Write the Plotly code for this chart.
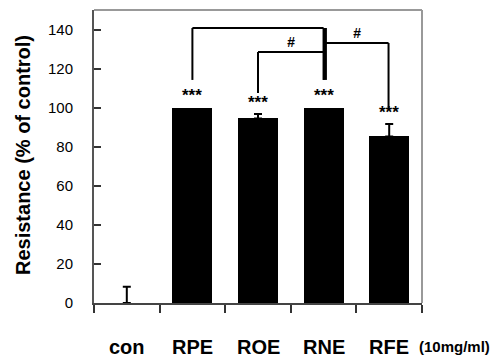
import plotly.graph_objects as go

categories = ["con", "RPE", "ROE", "RNE", "RFE"]
means = [0, 100, 94.5, 100, 85.3]
errors = [8.3, 0, 2.2, 0, 6.3]
stars = ["", "***", "***", "***", "***"]
y_ticks = [0, 20, 40, 60, 80, 100, 120, 140]
unit_label = "(10mg/ml)"

# significance brackets: (left index, right index, top y, left bottom y, right bottom y, label)
brackets = [
    (1, 3, 140.8, 114.2, 114.2, ""),
    (2, 3.02, 128.5, 107.5, None, "#"),
    (3.02, 3.99, 133.1, None, 99.8, "#"),
]

FONT = "Liberation Sans, Arial, sans-serif"
xs = list(range(len(categories)))

fig = go.Figure()
fig.add_trace(go.Bar(
    x=xs, y=means, width=0.61,
    marker=dict(color="black", line=dict(width=0)),
))
err_idx = [i for i, e in enumerate(errors) if e > 0]
fig.add_trace(go.Scatter(
    x=[xs[i] for i in err_idx], y=[means[i] for i in err_idx], mode="markers",
    marker=dict(size=0.1, color="black"),
    error_y=dict(type="data", symmetric=False, array=[errors[i] for i in err_idx],
                 arrayminus=[0] * len(err_idx), color="black",
                 thickness=2, width=4),
))

shapes = []
# top/right gray frame
shapes.append(dict(type="line", xref="paper", yref="paper", x0=0, x1=1, y0=1, y1=1,
                   line=dict(color="#999999", width=2)))
shapes.append(dict(type="line", xref="paper", yref="paper", x0=1, x1=1, y0=0, y1=1,
                   line=dict(color="#999999", width=2)))

for (xl, xr, top, bl, br, lab) in brackets:
    shapes.append(dict(type="line", xref="x", yref="y", x0=xl, x1=xr, y0=top, y1=top,
                       line=dict(color="black", width=2)))
    if bl is not None:
        shapes.append(dict(type="line", xref="x", yref="y", x0=xl, x1=xl, y0=bl, y1=top,
                           line=dict(color="black", width=2)))
    if br is not None:
        shapes.append(dict(type="line", xref="x", yref="y", x0=xr, x1=xr, y0=br, y1=top,
                           line=dict(color="black", width=2)))
# thick RNE stem
shapes.append(dict(type="line", xref="x", yref="y", x0=3.02, x1=3.02, y0=114.2, y1=140.8,
                   line=dict(color="black", width=4)))

annotations = []
for i, s in enumerate(stars):
    if s:
        annotations.append(dict(x=i, y=means[i] + errors[i] + 6, xref="x", yref="y",
                                text="<b>" + s + "</b>", showarrow=False,
                                font=dict(family=FONT, size=17, color="black"),
                                yanchor="middle"))
for (xl, xr, top, bl, br, lab) in brackets:
    if lab:
        annotations.append(dict(x=(xl + xr) / 2, y=top, xref="x", yref="y", text="<b><i>" + lab + "</i></b>",
                                showarrow=False, yanchor="bottom",
                                font=dict(family=FONT, size=14, color="black")))
for i, c in enumerate(categories):
    annotations.append(dict(x=i, y=-0.15, xref="x", yref="paper", text="<b>" + c + "</b>",
                            showarrow=False, yanchor="middle",
                            font=dict(family=FONT, size=20, color="black")))
annotations.append(dict(x=1.0, y=-0.15, xref="paper", yref="paper", text="<b>" + unit_label + "</b>",
                        showarrow=False, xanchor="left", xshift=-5, yanchor="middle",
                        font=dict(family=FONT, size=15, color="black")))
annotations.append(dict(x=-0.2165, y=0.505, xref="paper", yref="paper",
                        text="<b>Resistance (% of control)</b>", textangle=-90,
                        showarrow=False, xanchor="center", yanchor="middle",
                        font=dict(family=FONT, size=20, color="black")))

fig.update_layout(
    width=499, height=359,
    margin=dict(l=94, r=77, t=10, b=56),
    paper_bgcolor="white", plot_bgcolor="white",
    showlegend=False, bargap=0,
    shapes=shapes, annotations=annotations,
    xaxis=dict(range=[-0.5, 4.5], tickvals=[-0.5, 0.5, 1.5, 2.5, 3.5, 4.5],
               ticktext=[""] * 6, ticks="outside", ticklen=8, tickwidth=1.5,
               tickcolor="#333333", showline=True, linecolor="#444444", linewidth=2,
               showgrid=False, zeroline=False),
    yaxis=dict(range=[0, 150], tickvals=y_ticks, ticks="inside", ticklen=7,
               tickwidth=1.5, tickcolor="#333333", showline=True, linecolor="#555555",
               linewidth=2, showgrid=False, zeroline=False,
               tickfont=dict(family=FONT, size=15, color="black"),
               tickprefix="<b>", ticksuffix="</b>", ticklabelstandoff=16),
)

fig.write_html("out.html", config={"displayModeBar": False},
               post_script="document.body.style.margin='0';document.body.style.overflow='hidden';")
